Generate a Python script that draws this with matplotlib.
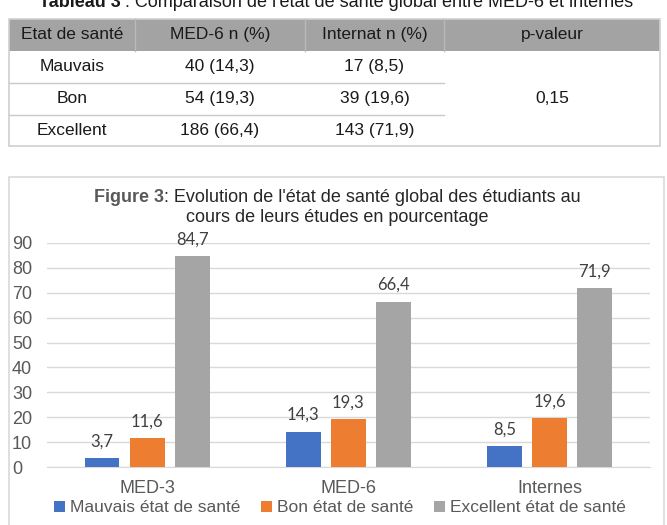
import matplotlib
matplotlib.use('Agg')
import matplotlib.pyplot as plt
from matplotlib.patches import Rectangle, Patch

# Table data
table_header = ['Etat de santé', 'MED-6 n (%)', 'Internat n (%)', 'p-valeur']
table_states = ['Mauvais', 'Bon', 'Excellent']
table_med6 = ['40 (14,3)', '54 (19,3)', '186 (66,4)']
table_internat = ['17 (8,5)', '39 (19,6)', '143 (71,9)']
table_pvalue = '0,15'

# Chart data
groups = ['MED-3', 'MED-6', 'Internes']
series_names = ['Mauvais état de santé', 'Bon état de santé', 'Excellent état de santé']
mauvais = [3.7, 14.3, 8.5]
bon = [11.6, 19.3, 19.6]
excellent = [84.7, 66.4, 71.9]
yticks = [0, 10, 20, 30, 40, 50, 60, 70, 80, 90]

colors = ['#4472C4', '#ED7D31', '#A5A5A5']
W, H = 667, 525
FONT = 'Liberation Sans'

fig = plt.figure(figsize=(W / 100, H / 100), dpi=100)
fig.patch.set_facecolor('white')

# background axes in pixel coords (y down)
bg = fig.add_axes([0, 0, 1, 1])
bg.set_xlim(0, W)
bg.set_ylim(H, 0)
bg.axis('off')

# Table caption (cut at top of the page, as in the screenshot)
r = fig.canvas.get_renderer()
t1 = bg.text(0, 7, 'Tableau 3', fontsize=13, fontweight='bold', family=FONT,
             color='#1a1a1a', va='baseline', ha='left')
t2 = bg.text(0, 7, " : Comparaison de l'état de santé global entre MED-6 et internes",
             fontsize=13, family=FONT, color='#1a1a1a', va='baseline', ha='left')
w1 = t1.get_window_extent(r).width
w2 = t2.get_window_extent(r).width
x0 = 336 - (w1 + w2) / 2
t1.set_x(x0)
t2.set_x(x0 + w1)

# Table
cols = [9, 135, 305, 444, 660]
rows = [19, 50.5, 82.5, 114.5, 146]
bg.add_patch(Rectangle((cols[0], rows[0]), cols[-1] - cols[0], rows[1] - rows[0],
                       facecolor='#a3a3a3', edgecolor='none'))
for c in cols[1:-1]:
    bg.plot([c, c], [rows[0], rows[1]], color='#b9b9b9', lw=1)
bg.add_patch(Rectangle((cols[0], rows[0]), cols[-1] - cols[0], rows[-1] - rows[0],
                       facecolor='none', edgecolor='#d0d0d0', lw=1.2))
for y in rows[2:4]:
    bg.plot([cols[0], cols[3]], [y, y], color='#c8c8c8', lw=1)

centers = [(cols[i] + cols[i + 1]) / 2 for i in range(4)]
for i, h in enumerate(table_header):
    bg.text(centers[i], (rows[0] + rows[1]) / 2, h, fontsize=12.5, family=FONT,
            color='#1a1a1a', ha='center', va='center')
for j in range(3):
    yc = (rows[j + 1] + rows[j + 2]) / 2
    bg.text(centers[0], yc, table_states[j], fontsize=12.5, family=FONT,
            color='#1a1a1a', ha='center', va='center')
    bg.text(centers[1], yc, table_med6[j], fontsize=12.5, family=FONT,
            color='#1a1a1a', ha='center', va='center')
    bg.text(centers[2], yc, table_internat[j], fontsize=12.5, family=FONT,
            color='#1a1a1a', ha='center', va='center')
bg.text(centers[3], (rows[1] + rows[-1]) / 2, table_pvalue, fontsize=12.5, family=FONT,
        color='#1a1a1a', ha='center', va='center')

# Chart frame
bg.add_patch(Rectangle((9, 177), 655, 360, facecolor='white', edgecolor='#d9d9d9', lw=1.2))

# Chart title
t3 = bg.text(0, 197, 'Figure 3', fontsize=13, fontweight='bold', family=FONT,
             color='#595959', ha='left', va='center')
t4 = bg.text(0, 197, ": Evolution de l'état de santé global des étudiants au",
             fontsize=13, family=FONT, color='#262626', ha='left', va='center')
w3 = t3.get_window_extent(r).width
w4 = t4.get_window_extent(r).width
x0 = 337 - (w3 + w4) / 2
t3.set_x(x0)
t4.set_x(x0 + w3)
bg.text(337, 218, 'cours de leurs études en pourcentage', fontsize=13, family=FONT,
        color='#262626', ha='center', va='center')

# Bar chart
ax = fig.add_axes([46.7 / W, (H - 467.3) / H, (650 - 46.7) / W, (467.3 - 242.7) / H])
ax.set_facecolor('none')
ax.set_xlim(-0.5, 2.5)
ax.set_ylim(0, 90)
step = 0.224
width = 0.172
for k, vals in enumerate([mauvais, bon, excellent]):
    xs = [i + (k - 1) * step for i in range(len(groups))]
    ax.bar(xs, vals, width=width, color=colors[k], zorder=3)
    for x, v in zip(xs, vals):
        ax.annotate(f'{v:.1f}'.replace('.', ','), (x, v), xytext=(0, 12),
                    textcoords='offset points', ha='center', va='center',
                    fontsize=12, family='Lato', color='#404040')

ax.set_yticks(yticks)
ax.yaxis.grid(True, color='#d9d9d9', lw=1, zorder=0)
ax.set_axisbelow(True)
for s in ['top', 'right', 'left']:
    ax.spines[s].set_visible(False)
ax.spines['bottom'].set_color('#d9d9d9')
ax.tick_params(axis='y', length=0, pad=25, labelsize=13, labelcolor='#595959')
for lab in ax.get_yticklabels():
    lab.set_horizontalalignment('left')
    lab.set_family(FONT)
ax.set_xticks(range(len(groups)))
ax.set_xticklabels(groups, family=FONT)
ax.tick_params(axis='x', length=0, pad=9, labelsize=13, labelcolor='#595959')

handles = [Patch(facecolor=c, edgecolor='none') for c in colors]
fig.legend(handles, series_names, loc='center', bbox_to_anchor=(340 / W, 1 - 508 / H),
           ncol=3, frameon=False, prop={'family': FONT, 'size': 12.5},
           labelcolor='#595959', handlelength=0.6, handleheight=0.6,
           handletextpad=0.3, columnspacing=1.2)

fig.savefig('out.png', dpi=100)
